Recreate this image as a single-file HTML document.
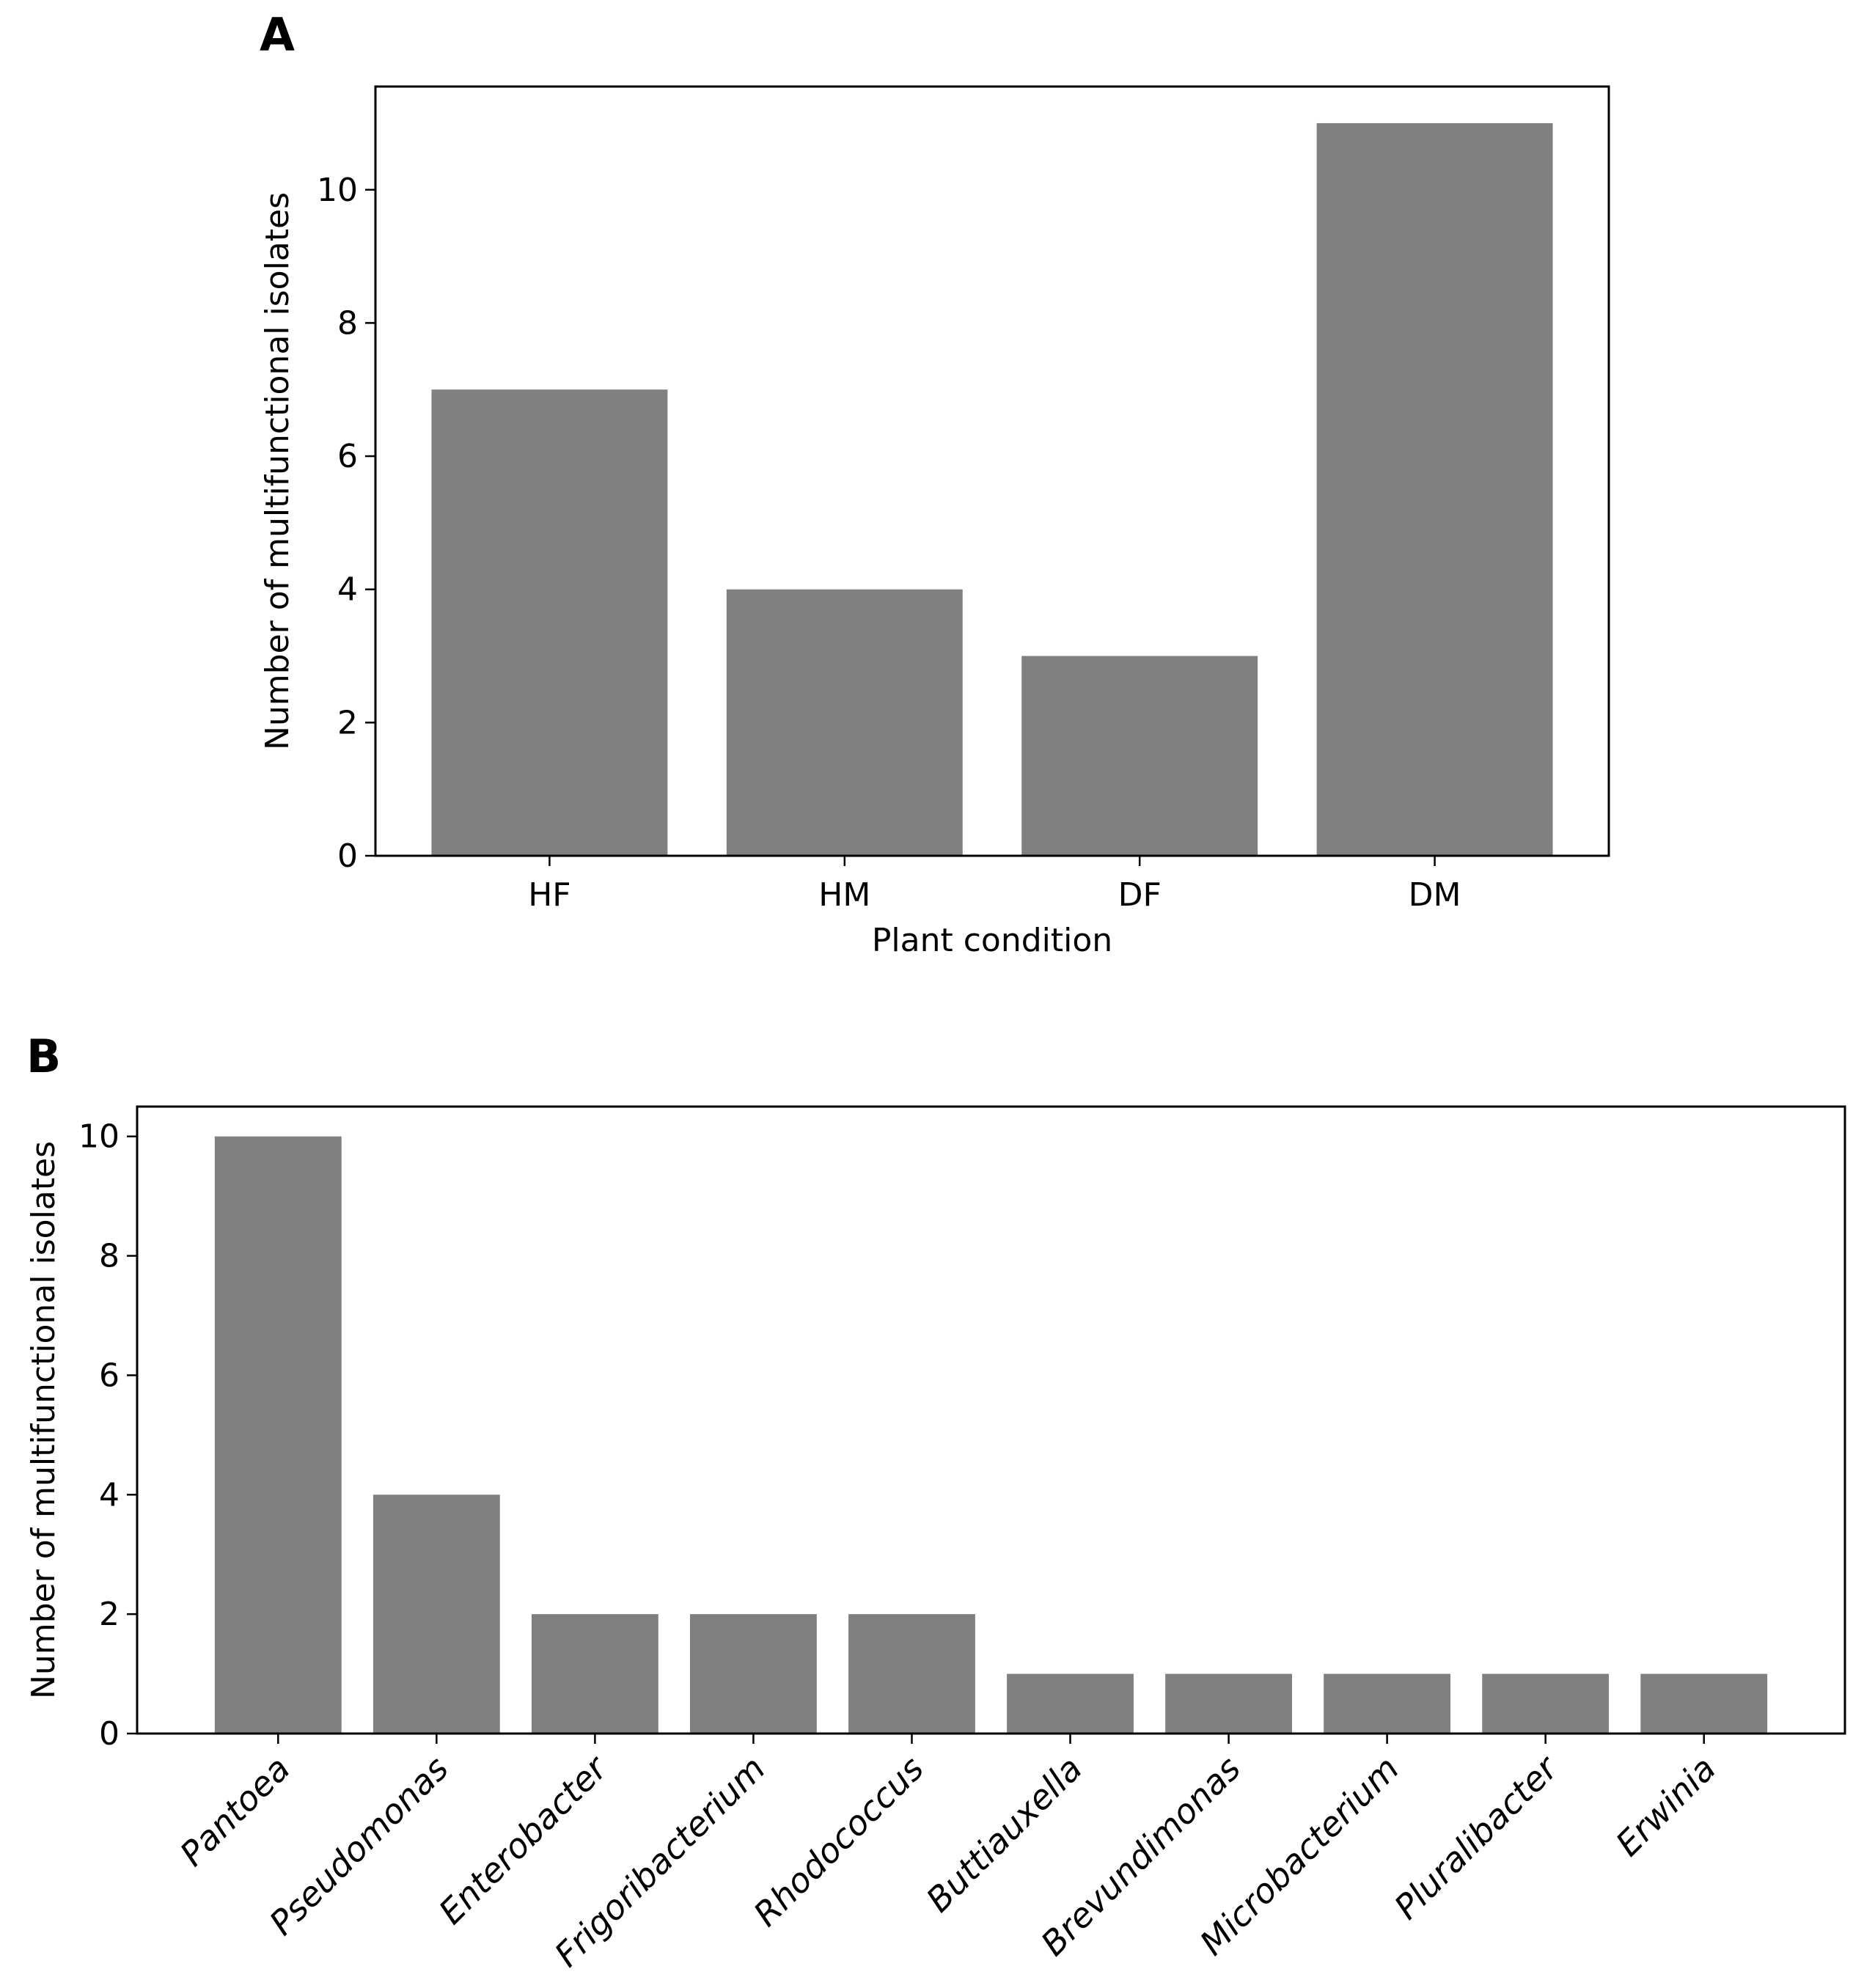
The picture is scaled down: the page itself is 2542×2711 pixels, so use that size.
<!DOCTYPE html>
<html><head><meta charset="utf-8"><style>
html,body{margin:0;padding:0;background:#fff}
svg{display:block;font-family:"DejaVu Sans","Liberation Sans",sans-serif}
</style></head><body>
<svg id="fig" width="2542" height="2711" viewBox="0 0 2542 2711">
<text x="354" y="69" font-size="62" font-weight="bold">A</text>
<text x="36" y="1462" font-size="62" font-weight="bold">B</text>
<g id="chartA"></g>
<g id="chartB"></g>
</svg>
<script>
const catsA = ["HF","HM","DF","DM"];
const valsA = [7,4,3,11];
const ticksA = [0,2,4,6,8,10];
const catsB = ["Pantoea","Pseudomonas","Enterobacter","Frigoribacterium","Rhodococcus","Buttiauxella","Brevundimonas","Microbacterium","Pluralibacter","Erwinia"];
const valsB = [10,4,2,2,2,1,1,1,1,1];
const ticksB = [0,2,4,6,8,10];

const NS="http://www.w3.org/2000/svg";
function mk(parent,tag,attrs,txt){const e=document.createElementNS(NS,tag);for(const k in attrs)e.setAttribute(k,attrs[k]);if(txt!==undefined)e.textContent=txt;parent.appendChild(e);return e;}

function draw(g,cfg,cats,vals,ticks){
  const {L,R,T,B,ymax,italic,ylabX,xlab,prefix}=cfg;
  const n=cats.length;
  const span=(n-1)+0.8;
  const lo=-0.4-span*0.05, hi=(n-1)+0.4+span*0.05;
  const x=v=>L+(v-lo)/(hi-lo)*(R-L);
  const y=v=>B-v/ymax*(B-T);
  const fs=44;
  vals.forEach((v,i)=>{
    const r=mk(g,'rect',{x:x(i-0.4),y:y(v),width:x(i+0.4)-x(i-0.4),height:B-y(v),fill:'#808080'});
    
    
  });
  const frame=mk(g,'rect',{x:L,y:T,width:R-L,height:B-T,fill:'none',stroke:'#000','stroke-width':3});
  
  
  ticks.forEach(t=>{
    const ln=mk(g,'line',{x1:L-14,x2:L,y1:y(t),y2:y(t),stroke:'#000','stroke-width':2.5});
    
    
    const tx=mk(g,'text',{x:L-24,y:y(t)+15,'font-size':fs,'text-anchor':'end'},String(t));
    
    
  });
  cats.forEach((c,i)=>{
    const ln=mk(g,'line',{x1:x(i),x2:x(i),y1:B,y2:B+14,stroke:'#000','stroke-width':2.5});
    
    
    let tx;
    if(italic){
      tx=mk(g,'text',{transform:`translate(${x(i)-4},${B+28}) rotate(-45)`,'font-size':46,'font-style':'italic','text-anchor':'end',dy:'0.7em'},c);
    } else {
      tx=mk(g,'text',{x:x(i),y:B+68,'font-size':fs,'text-anchor':'middle'},c);
    }
    
    
  });
  const yl=mk(g,'text',{transform:`translate(${ylabX},${(T+B)/2}) rotate(-90)`,'font-size':fs,'text-anchor':'middle'},'Number of multifunctional isolates');
  
  
  if(xlab){
    const xl=mk(g,'text',{x:(L+R)/2,y:B+130,'font-size':fs,'text-anchor':'middle'},xlab);
    
    
  }
}
draw(document.getElementById('chartA'),{L:512,R:2194,T:118,B:1167,ymax:11.55,italic:false,ylabX:393,xlab:'Plant condition',prefix:'a'},catsA,valsA,ticksA);
draw(document.getElementById('chartB'),{L:187,R:2516,T:1509,B:2364,ymax:10.5,italic:true,ylabX:74,xlab:null,prefix:'b'},catsB,valsB,ticksB);
</script>
</body></html>
